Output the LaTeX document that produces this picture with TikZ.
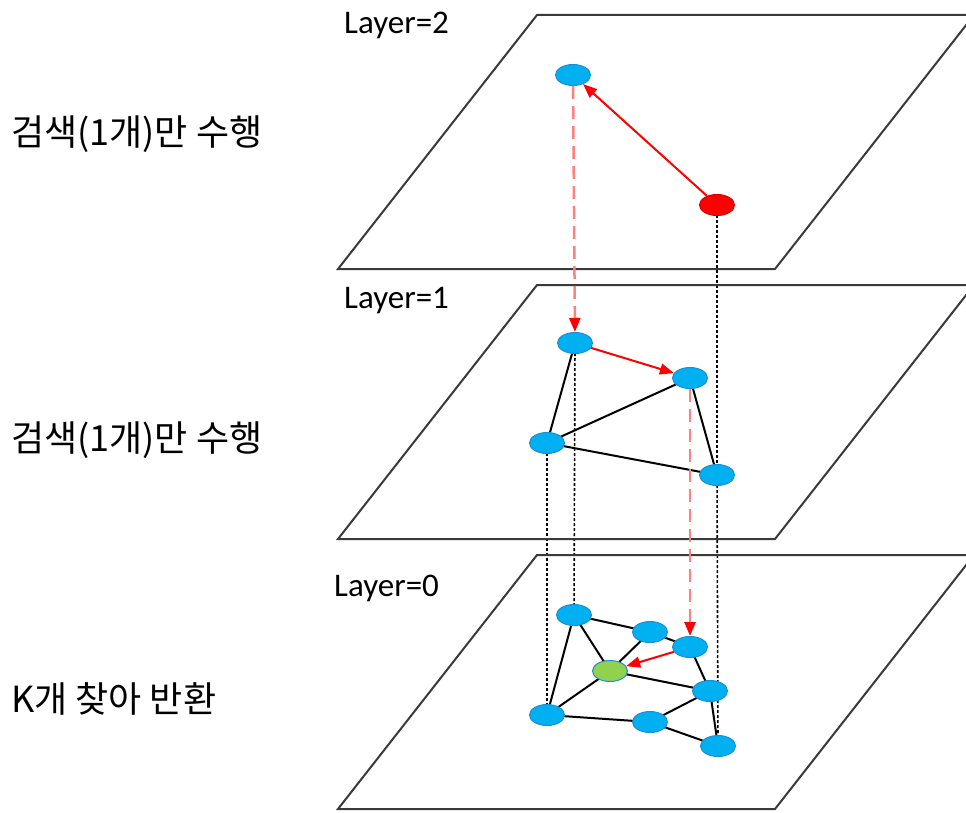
\documentclass[tikz,border=0pt]{standalone}
\usepackage{fontspec}
\setmainfont{Carlito}
\newfontfamily\krfont{Noto Sans CJK KR}
\usetikzlibrary{arrows.meta,shapes.geometric,backgrounds}

\definecolor{nodeblue}{HTML}{00B0F0}
\definecolor{nodeedge}{HTML}{1B8FD2}
\definecolor{nodegreen}{HTML}{92D050}
\definecolor{planegray}{HTML}{3A3A3A}

\tikzset{
	pt/.style={ellipse,draw=nodeedge,line width=1pt,fill=nodeblue,minimum width=35pt,minimum height=21pt,inner sep=0pt},
	plane/.style={draw=planegray,line width=2pt,line join=miter},
	link/.style={black,line width=2pt},
	drop/.style={black,line width=1.6pt,dash pattern=on 3pt off 2pt},
	hop/.style={red,line width=2pt,-{Triangle[length=14pt,width=11pt]}},
	down/.style={red!50,line width=2.5pt,dash pattern=on 13pt off 7pt,-{Triangle[length=14pt,width=11pt,color=red]}},
	lbl/.style={anchor=west,inner sep=0pt,font=\fontsize{33}{38}\selectfont},
	klbl/.style={anchor=west,inner sep=0pt,font=\krfont\fontsize{36}{42}\selectfont}
}

\begin{document}
\begin{tikzpicture}[x=1pt,y=-1pt]
	\useasboundingbox (0,0) rectangle (966,813);
	% planes
	\foreach \y in {15,285,555}
		\draw[plane] (537,\y) -- (974,\y) -- (775,\y+254) -- (338,\y+254) -- cycle;
	\node[lbl] (lab2) at (344,25) {Layer=2};
	\node[lbl] (lab1) at (344,301) {Layer=1};
	\node[lbl] (lab0) at (334,588) {Layer=0};
	\node[klbl] (txt2) at (11,134) {검색(1개)만 수행};
	\node[klbl] (txt1) at (11,440) {검색(1개)만 수행};
	\node[klbl] (txt0) at (11,699) {K개 찾아 반환};

	% layer 2
	\node[pt] (t1) at (573,75) {};
	\node[pt,fill=red,draw=red!85!black] (entry) at (717,205) {};
	% layer 1
	\node[pt] (a) at (575,343) {};
	\node[pt] (b) at (690,378) {};
	\node[pt] (c) at (547,443) {};
	\node[pt] (d) at (717,475) {};
	% layer 0
	\node[pt] (p1) at (574,615) {};
	\node[pt] (p2) at (650,632) {};
	\node[pt] (p3) at (690,647) {};
	\node[pt,fill=nodegreen] (q) at (610,671) {};
	\node[pt] (p5) at (710,691) {};
	\node[pt] (p6) at (547,715) {};
	\node[pt] (p7) at (650,722) {};
	\node[pt] (p8) at (718,746) {};

	\begin{scope}[on background layer]
		\foreach \u/\v in {entry/d,d/p8,a/p1,c/p6}
			\draw[drop] (\u.center) -- (\v.center);
		\foreach \u/\v in {a/c,b/c,b/d,c/d,p1/p2,p2/p3,p1/p6,p1/q,p2/q,q/p6,q/p5,p3/p5,p5/p7,p6/p7,p7/p8,p5/p8}
			\draw[link] (\u.center) -- (\v.center);
	\end{scope}
	\draw[hop] (entry) -- (t1);
	\draw[hop] (a) -- (b);
	\draw[hop] (p3) -- (q);
	\draw[down] (t1) -- (a);
	\draw[down] (b) -- (p3);
\end{tikzpicture}
\end{document}
